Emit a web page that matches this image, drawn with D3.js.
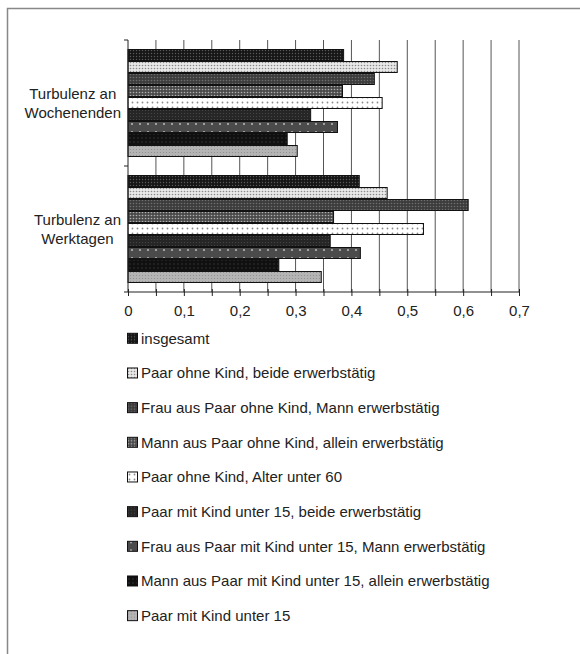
<!DOCTYPE html>
<meta charset="utf-8">
<html>
<head>
  <title>Turbulenz</title>
  <style>
    body { margin: 0; background: #fff; }
    svg { width: 580px; height: 654px; display: block; }
    text { font-family: 'Liberation Sans', Arial, sans-serif; font-size: 15px; fill: #222; }
  </style>
  <script src="https://d3js.org/d3.v7.min.js"></script>
</head>
<body>
  <svg></svg>
  <script>
    // categories (top to bottom)
    var groups = ["Turbulenz an Wochenenden", "Turbulenz an Werktagen"];
    var groupLines = [["Turbulenz an", "Wochenenden"], ["Turbulenz an", "Werktagen"]];

    var series = [
      "insgesamt",
      "Paar ohne Kind, beide erwerbstätig",
      "Frau aus Paar ohne Kind, Mann erwerbstätig",
      "Mann aus Paar ohne Kind, allein erwerbstätig",
      "Paar ohne Kind, Alter unter 60",
      "Paar mit Kind unter 15, beide erwerbstätig",
      "Frau aus Paar mit Kind unter 15, Mann erwerbstätig",
      "Mann aus Paar mit Kind unter 15, allein erwerbstätig",
      "Paar mit Kind unter 15"
    ];

    // values per series, same order as series
    var wochenenden = [0.386, 0.482, 0.441, 0.384, 0.455, 0.327, 0.375, 0.285, 0.303];
    var werktage    = [0.414, 0.464, 0.609, 0.368, 0.529, 0.362, 0.416, 0.270, 0.346];

    var xGrid = d3.range(1, 15).map(function(i) { return i * 0.05; });

    var svg = d3.select("svg");

    // outer frame
    svg.append("rect")
      .attr("x", 7.5).attr("y", 8.5)
      .attr("width", 600).attr("height", 700)
      .attr("fill", "none").attr("stroke", "#888").attr("stroke-width", 1.5);

    var x = d3.scaleLinear().domain([0, 0.7]).range([128, 519]);
    var y0 = d3.scaleBand().domain(groups).range([40, 292]);
    var y1 = d3.scaleBand().domain(series).range([0, y0.bandwidth()]).paddingOuter(0.75);

    // fill patterns
    var defs = svg.append("defs");
    var pats = [
      { bg: "#161616", fg: "#5a5a5a", s: 3, r: 0.7 },
      { bg: "#e8e8e8", fg: "#8a8a8a", s: 3, r: 0.8 },
      { bg: "#3c3c3c", fg: "#6e6e6e", s: 3, r: 0.8 },
      { bg: "#4a4a4a", fg: "#b0b0b0", s: 3, r: 0.8 },
      { bg: "#ffffff", fg: "#8a8a8a", s: 5, r: 0.9 },
      { bg: "#262626", fg: "#4a4a4a", s: 3, r: 0.6 },
      { bg: "#4b4b4b", fg: "#bdbdbd", s: 8, r: 1.0 },
      { bg: "#101010", fg: "#3a3a3a", s: 4, r: 0.7 },
      { bg: "#b4b4b4", fg: "#8c8c8c", s: 3, r: 0.6 }
    ];
    pats.forEach(function(p, i) {
      var pt = defs.append("pattern")
        .attr("id", "p" + i)
        .attr("patternUnits", "userSpaceOnUse")
        .attr("width", p.s).attr("height", p.s);
      pt.append("rect").attr("width", p.s).attr("height", p.s).attr("fill", p.bg);
      pt.append("circle").attr("cx", p.s / 2).attr("cy", p.s / 2).attr("r", p.r).attr("fill", p.fg);
    });

    // gridlines
    svg.append("g").selectAll("line")
      .data(xGrid)
      .enter().append("line")
        .attr("x1", function(d) { return x(d); })
        .attr("x2", function(d) { return x(d); })
        .attr("y1", 40).attr("y2", 292)
        .attr("stroke", "#555").attr("stroke-width", 1);

    // bars
    var data = groups.map(function(g, gi) {
      var vals = gi === 0 ? wochenenden : werktage;
      return { group: g, values: series.map(function(s, i) { return { s: s, i: i, v: vals[i] }; }) };
    });

    var gg = svg.append("g").selectAll("g")
      .data(data)
      .enter().append("g")
        .attr("transform", function(d) { return "translate(0," + y0(d.group) + ")"; });

    gg.selectAll("rect")
      .data(function(d) { return d.values; })
      .enter().append("rect")
        .attr("x", x(0))
        .attr("y", function(d) { return y1(d.s) + 0.5; })
        .attr("width", function(d) { return x(d.v) - x(0); })
        .attr("height", y1.bandwidth() - 1)
        .attr("fill", function(d) { return "url(#p" + d.i + ")"; })
        .attr("stroke", "#111").attr("stroke-width", 1);

    // x axis
    var xAxis = d3.axisBottom(x)
      .tickValues(d3.range(0, 15).map(function(i) { return i * 0.05; }))
      .tickSize(4)
      .tickFormat(function(d) {
        var r = Math.round(d * 100);
        if (r % 10 !== 0) return "";
        return r === 0 ? "0" : d3.format(".1f")(d).replace(".", ",");
      });
    var ax = svg.append("g")
      .attr("transform", "translate(0,292)")
      .call(xAxis);
    ax.select(".domain").attr("d", "M128,0H519").attr("stroke", "#222");
    ax.selectAll(".tick line").attr("stroke", "#222").attr("y1", -3);
    ax.selectAll(".tick text").attr("y", 10).attr("dy", "0.9em")
      .style("font-size", "15px").style("font-family", "'Liberation Sans', Arial, sans-serif").attr("fill", "#222");

    // y axis
    var yAxis = d3.axisLeft(y0).tickSize(0).tickFormat("");
    var ay = svg.append("g").attr("transform", "translate(128,0)").call(yAxis);
    ay.select(".domain").attr("d", "M0,40V292").attr("stroke", "#222");
    svg.append("g").selectAll("line")
      .data([40, 166, 292])
      .enter().append("line")
        .attr("x1", 124).attr("x2", 128)
        .attr("y1", function(d) { return d; }).attr("y2", function(d) { return d; })
        .attr("stroke", "#222");

    // category labels
    groups.forEach(function(g, gi) {
      var cy = y0(g) + y0.bandwidth() / 2;
      var lab = svg.append("text").attr("text-anchor", "middle");
      var lines = groupLines[gi];
      lines.forEach(function(t, li) {
        lab.append("tspan").attr("x", 0).attr("y", cy + (li - 0.5) * 19).attr("dy", "0.35em").text(t);
      });
      var w = d3.max(lab.selectAll("tspan").nodes(), function(n) { return n.getComputedTextLength(); });
      lab.selectAll("tspan").attr("x", 121 - w / 2);
    });

    // legend
    var leg = svg.append("g").selectAll("g")
      .data(series)
      .enter().append("g")
        .attr("transform", function(d, i) { return "translate(127," + (338.3 + i * 34.67) + ")"; });
    leg.append("rect")
      .attr("x", 0.5).attr("y", -5).attr("width", 10).attr("height", 10)
      .attr("fill", function(d, i) { return "url(#p" + i + ")"; })
      .attr("stroke", "#111");
    leg.append("text")
      .attr("x", 14).attr("dy", "0.35em")
      .text(function(d) { return d; });
  </script>
</body>
</html>
